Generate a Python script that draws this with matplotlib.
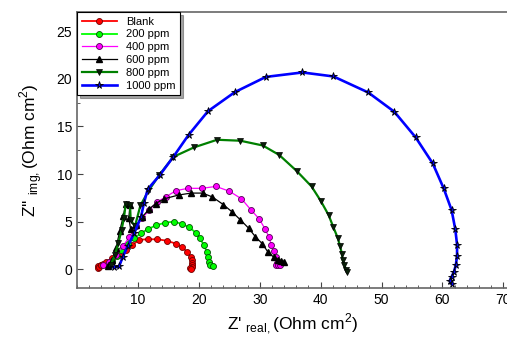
import numpy as np
import matplotlib
matplotlib.use("Agg")
import matplotlib.pyplot as plt
from matplotlib.ticker import MultipleLocator

plt.rcParams['font.family'] = ['Liberation Sans', 'DejaVu Sans']
plt.rcParams['mathtext.fontset'] = 'custom'
plt.rcParams['mathtext.rm'] = 'Liberation Sans'

# Nyquist data (Z' real, Z'' img)
blank_x = [3.4, 3.5, 3.6, 3.9, 4.0, 4.3, 4.7, 5.8, 6.9, 8.0, 9.1, 10.2, 11.6, 13.2, 14.7,
           16.2, 17.3, 18.1, 18.7, 18.9, 18.9, 18.8, 18.9, 18.6, 18.7]
blank_y = [0.3, 0.1, 0.2, 0.45, 0.5, 0.6, 0.8, 1.15, 1.5, 2.0, 2.55, 3.1, 3.15, 3.15, 3.0,
           2.7, 2.3, 1.8, 1.26, 1.0, 0.7, 0.45, 0.27, 0.1, 0.0]

p200_x = [5.0, 5.8, 6.5, 7.2, 8.3, 9.4, 10.5, 11.6, 12.9, 14.5, 15.9, 17.3, 18.4, 19.5,
          20.2, 20.8, 21.3, 21.5, 21.7, 21.9, 22.4]
p200_y = [0.5, 0.9, 1.4, 2.0, 2.7, 3.25, 3.8, 4.2, 4.6, 4.9, 5.0, 4.75, 4.4, 3.85,
          3.25, 2.55, 1.85, 1.3, 0.8, 0.45, 0.35]

p400_x = [4.2, 5.3, 6.4, 7.5, 8.6, 9.7, 10.7, 11.8, 13.2, 14.6, 16.2, 18.2, 20.5, 22.8,
          25.0, 27.0, 28.6, 29.9, 30.9, 31.5, 31.9, 32.3, 32.6, 32.8, 32.6, 33.0, 33.4]
p400_y = [0.45, 0.8, 1.5, 2.4, 3.4, 4.5, 5.35, 6.2, 7.1, 7.6, 8.25, 8.5, 8.5, 8.7,
          8.2, 7.4, 6.2, 5.3, 4.2, 3.4, 2.55, 1.9, 1.26, 0.63, 0.45, 0.45, 0.5]

p600_x = [5.0, 5.8, 6.4, 7.0, 7.6, 8.0, 8.7, 8.5, 8.8, 9.7, 10.7, 11.8, 12.9, 14.3, 16.7,
          18.7, 20.6, 22.2, 24.0, 25.5, 26.8, 28.2, 29.3, 30.4, 31.3, 32.3, 33.0, 33.5, 34.0]
p600_y = [0.3, 1.0, 2.2, 4.0, 5.6, 6.9, 6.8, 5.4, 4.2, 4.6, 5.5, 6.3, 6.9, 7.4, 7.8,
          8.0, 8.0, 7.6, 6.8, 6.0, 5.2, 4.3, 3.4, 2.7, 1.85, 1.26, 1.0, 0.9, 0.8]

p800_x = [5.5, 6.2, 6.8, 7.3, 7.7, 8.0, 8.7, 8.8, 9.5, 10.4, 11.7, 13.5, 15.8, 19.2, 23.0,
          26.8, 30.5, 33.2, 36.1, 38.5, 40.0, 41.3, 42.1, 42.8, 43.2, 43.5, 43.6, 43.9,
          44.2, 44.4]
p800_y = [0.4, 1.5, 2.8, 4.1, 5.4, 6.9, 6.8, 5.2, 4.5, 6.7, 8.2, 9.9, 11.8, 12.8, 13.6,
          13.5, 13.0, 12.0, 10.3, 8.7, 7.2, 5.7, 4.4, 3.3, 2.4, 1.6, 1.0, 0.45,
          -0.1, -0.3]

p1000_x = [6.0, 6.9, 7.5, 8.3, 9.4, 10.5, 11.0, 11.6, 13.6, 15.8, 18.3, 21.5, 25.9, 31.0,
           37.0, 42.1, 47.8, 52.1, 55.6, 58.4, 60.2, 61.5, 62.1, 62.4, 62.4, 62.2, 61.9,
           61.5, 61.2, 61.5]
p1000_y = [0.2, 0.3, 1.3, 2.4, 3.8, 5.5, 7.0, 8.4, 9.9, 11.8, 14.1, 16.6, 18.6, 20.2,
           20.67, 20.25, 18.57, 16.54, 13.85, 11.12, 8.5, 6.22, 4.23, 2.6, 1.4, 0.45, -0.25,
           -0.8, -1.2, -1.5]

fig = plt.figure(figsize=(5.07, 3.38), dpi=100)
ax = fig.add_axes([0.152, 0.147, 0.848, 0.817])

ax.plot(blank_x, blank_y, '-o', color='#ff0000', lw=1.3, ms=4.3, mfc='#ff0000', mec='#700000', mew=0.6, label='Blank')
ax.plot(p200_x, p200_y, '-o', color='#00ff00', lw=1.3, ms=4.3, mfc='#00ff00', mec='#005000', mew=0.6, label='200 ppm')
ax.plot(p400_x, p400_y, '-o', color='#ff00ff', lw=0.9, ms=4.3, mfc='#ff00ff', mec='#500050', mew=0.6, label='400 ppm')
ax.plot(p600_x, p600_y, '-^', color='black', lw=0.9, ms=4.3, mfc='black', mec='black', label='600 ppm')
ax.plot(p800_x, p800_y, '-v', color='#008000', lw=1.6, ms=4.8, mfc='#0a200a', mec='black', mew=0.5, label='800 ppm')
ax.plot(p1000_x, p1000_y, '-*', color='#0000ff', lw=1.9, ms=5.5, mfc='#0000ff', mec='black', mew=0.6, label='1000 ppm')

ax.set_xlim(0, 70.6)
ax.set_ylim(-2, 27)
ax.xaxis.set_minor_locator(MultipleLocator(2))
ax.yaxis.set_minor_locator(MultipleLocator(2.5))
ax.set_xticks([10, 20, 30, 40, 50, 60, 70])
ax.set_yticks([0, 5, 10, 15, 20, 25])
ax.tick_params(which='both', direction='in', labelsize=10, color='#444444')
ax.tick_params(which='major', length=4)
ax.tick_params(which='minor', length=2.5)
ax.spines['right'].set_visible(False)
for s in ['left', 'bottom', 'top']:
    ax.spines[s].set_color('#666666')
    ax.spines[s].set_linewidth(1.2)

ax.set_xlabel(r"Z' $_{\rm real,}$(Ohm cm$^{2}$)", fontsize=12.5, labelpad=3)
ax.set_ylabel(r"Z'' $_{\rm img,}$(Ohm cm$^{2}$)", fontsize=12.5, labelpad=8)

leg = ax.legend(loc='upper left', fontsize=8, frameon=True, fancybox=False, shadow=True,
                borderaxespad=0, handlelength=3.2, labelspacing=0.25, borderpad=0.4,
                edgecolor='black')
leg.get_frame().set_linewidth(0.8)

fig.savefig('out.png', dpi=100)
